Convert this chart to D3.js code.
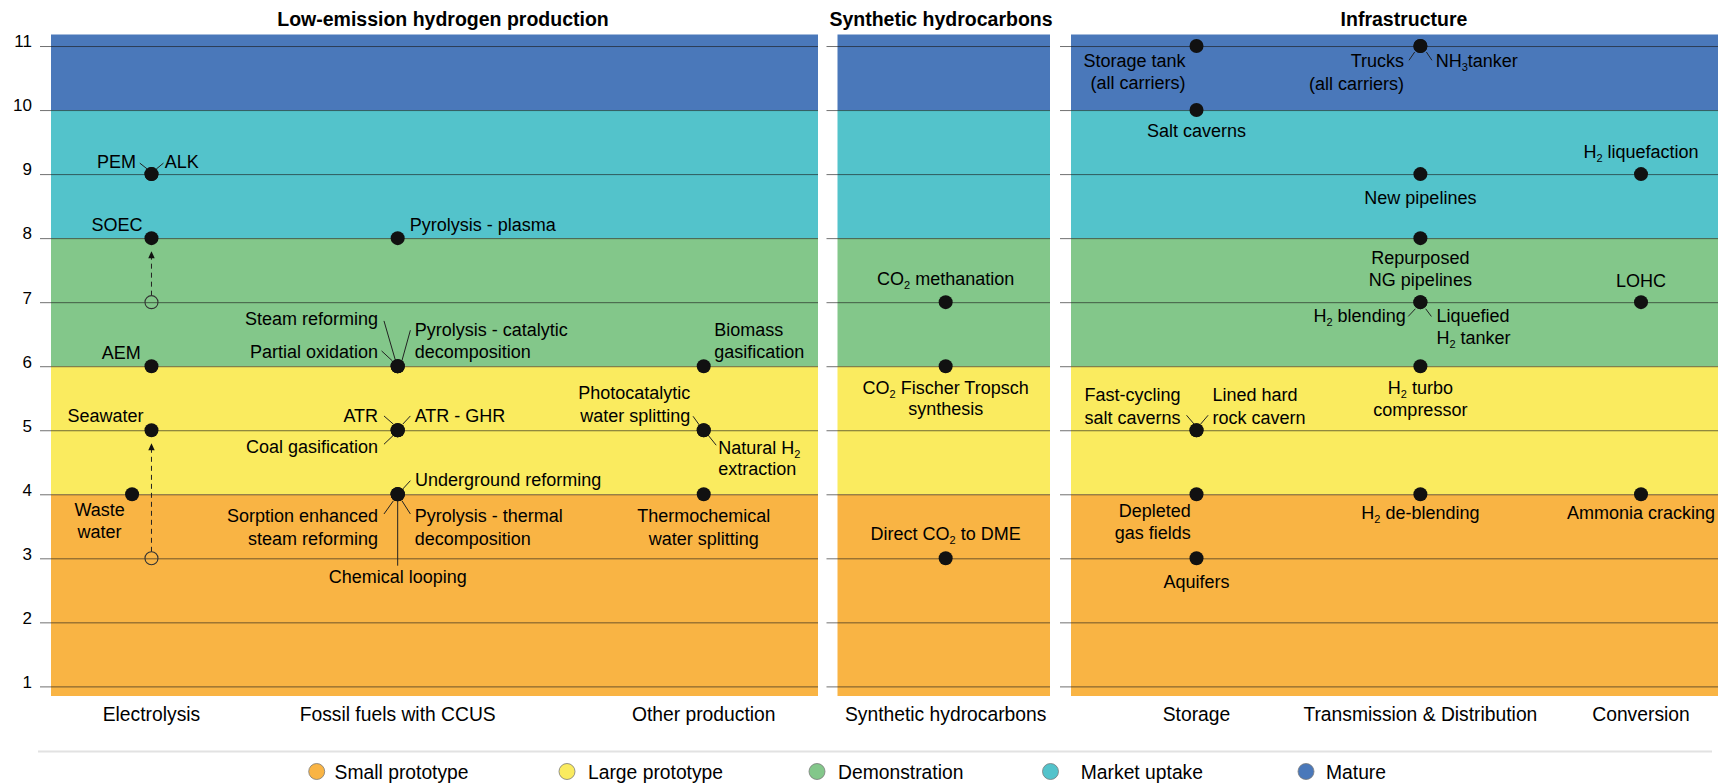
<!DOCTYPE html>
<html><head><meta charset="utf-8">
<script src="https://cdn.jsdelivr.net/npm/d3@7"></script>
<style>
body{margin:0;background:#fff}
svg{display:block}
text{font-family:"Liberation Sans",Arial,Helvetica,sans-serif;fill:#000}
</style>
</head><body>
<svg id="chart" width="1720" height="784"></svg>
<script>
// ---------------- DATA ----------------
const panelTitles = ["Low-emission hydrogen production", "Synthetic hydrocarbons", "Infrastructure"];
const categories = ["Electrolysis", "Fossil fuels with CCUS", "Other production", "Synthetic hydrocarbons", "Storage", "Transmission & Distribution", "Conversion"];
const categoryPanel = [0, 0, 0, 1, 2, 2, 2];
const categoryX = [1.31, 4.52, 8.51, 5.09, 1.94, 5.40, 8.81]; // position on each panel's 0–10 x axis
const yTicks = [1, 2, 3, 4, 5, 6, 7, 8, 9, 10, 11];
const stageNames = ["Small prototype", "Large prototype", "Demonstration", "Market uptake", "Mature"];
const stageFrom = [0, 4, 6, 8, 10];
const stageTo = [4, 6, 8, 10, 12];

const techNames = [
  "PEM", "ALK", "SOEC", "AEM", "Seawater", "Waste water",
  "Pyrolysis - plasma", "Steam reforming", "Partial oxidation", "Pyrolysis - catalytic decomposition",
  "ATR", "ATR - GHR", "Coal gasification", "Underground reforming", "Sorption enhanced steam reforming",
  "Pyrolysis - thermal decomposition", "Chemical looping",
  "Biomass gasification", "Photocatalytic water splitting", "Natural H₂ extraction", "Thermochemical water splitting",
  "CO₂ methanation", "CO₂ Fischer Tropsch synthesis", "Direct CO₂ to DME",
  "Storage tank (all carriers)", "Salt caverns", "Fast-cycling salt caverns", "Lined hard rock cavern", "Depleted gas fields", "Aquifers",
  "Trucks (all carriers)", "NH₃tanker", "New pipelines", "Repurposed NG pipelines", "H₂ blending", "Liquefied H₂ tanker",
  "H₂ turbo compressor", "H₂ de-blending",
  "H₂ liquefaction", "LOHC", "Ammonia cracking"
];
const techCategory = [
  "Electrolysis", "Electrolysis", "Electrolysis", "Electrolysis", "Electrolysis", "Electrolysis",
  "Fossil fuels with CCUS", "Fossil fuels with CCUS", "Fossil fuels with CCUS", "Fossil fuels with CCUS",
  "Fossil fuels with CCUS", "Fossil fuels with CCUS", "Fossil fuels with CCUS", "Fossil fuels with CCUS", "Fossil fuels with CCUS",
  "Fossil fuels with CCUS", "Fossil fuels with CCUS",
  "Other production", "Other production", "Other production", "Other production",
  "Synthetic hydrocarbons", "Synthetic hydrocarbons", "Synthetic hydrocarbons",
  "Storage", "Storage", "Storage", "Storage", "Storage", "Storage",
  "Transmission & Distribution", "Transmission & Distribution", "Transmission & Distribution", "Transmission & Distribution",
  "Transmission & Distribution", "Transmission & Distribution", "Transmission & Distribution", "Transmission & Distribution",
  "Conversion", "Conversion", "Conversion"
];
const techTRL = [
  9, 9, 8, 6, 5, 4,
  8, 6, 6, 6,
  5, 5, 5, 4, 4,
  4, 4,
  6, 5, 5, 4,
  7, 6, 3,
  11, 10, 5, 5, 4, 3,
  11, 11, 9, 8, 7, 7,
  6, 4,
  9, 7, 4
];
// technologies whose readiness level moved up (previous level -> current level)
const movedTech = ["SOEC", "Seawater"];
const movedFromTRL = [7, 3];

// ---------------- LAYOUT / STYLE ----------------
const W = 1720, H = 784;
const panelRange = [[51, 818], [837.5, 1050], [1071, 1718]];
const titleX = [443, 941, 1404];
const stageColors = ["#F9B444", "#FAEB5F", "#83C78A", "#53C3CB", "#4A78BA"];
const legendCX = [316.7, 567, 817, 1050.5, 1306];
const legendTX = [334.6, 588, 838, 1080.8, 1326];

// label placement relative to each dot (px)
const labelLayout = {
  "PEM": {a: "end", dx: -15.5, dy: [-6.6], lead: [-11.7, -11, -4.1, -5]},
  "ALK": {a: "start", dx: 13.2, dy: [-6.6], lead: [12, -11, 4.7, -5]},
  "SOEC": {a: "end", dx: -9, dy: [-7]},
  "AEM": {a: "end", dx: -10.6, dy: [-7]},
  "Seawater": {a: "end", dx: -8, dy: [-8]},
  "Waste water": {a: "middle", ox: -19.4, dx: -32.5, dy: [21.4, 43.7], lines: ["Waste", "water"]},
  "Pyrolysis - plasma": {a: "start", dx: 12, dy: [-7]},
  "Steam reforming": {a: "end", dx: -19.6, dy: [-41.3], lead: [-13.7, -45.3, -2.3, -6]},
  "Partial oxidation": {a: "end", dx: -19.6, dy: [-8.6], lead: [-16.1, -15.3, -5.3, -5.3]},
  "Pyrolysis - catalytic decomposition": {a: "start", dx: 17, dy: [-30.3, -8.6], lines: ["Pyrolysis - catalytic", "decomposition"], lead: [12.7, -36, 4.2, -5.3]},
  "ATR": {a: "end", dx: -19.6, dy: [-8.3], lead: [-13.7, -14.3, -4.2, -6]},
  "ATR - GHR": {a: "start", dx: 17, dy: [-8.3], lead: [12.7, -14.3, 5, -6]},
  "Coal gasification": {a: "end", dx: -19.6, dy: [22.3], lead: [-13.7, 14, -4.2, 5]},
  "Underground reforming": {a: "start", dx: 17.4, dy: [-7.9], lead: [12.7, -13.6, 4.2, -4.3]},
  "Sorption enhanced steam reforming": {a: "end", dx: -19.6, dy: [28.1, 50.4], lines: ["Sorption enhanced", "steam reforming"], lead: [-13.7, 19.7, -4.2, 6.4]},
  "Pyrolysis - thermal decomposition": {a: "start", dx: 17, dy: [28.1, 50.4], lines: ["Pyrolysis - thermal", "decomposition"], lead: [12.7, 19.7, 4.2, 6.4]},
  "Chemical looping": {a: "middle", dx: 0, dy: [89], lead: [0, 7, 0, 71.4]},
  "Biomass gasification": {a: "start", dx: 10.5, dy: [-30.3, -8], lines: ["Biomass", "gasification"]},
  "Photocatalytic water splitting": {a: "end", dx: -13.5, dy: [-31, -8.3], lines: ["Photocatalytic", "water splitting"], lead: [-10.7, -14, -3.5, -4]},
  "Natural H₂ extraction": {a: "start", dx: 14.5, dy: [23.3, 45], lines: ["Natural H₂", "extraction"], lead: [4.5, 5, 12.5, 15]},
  "Thermochemical water splitting": {a: "middle", dx: 0, dy: [28.1, 50.4], lines: ["Thermochemical", "water splitting"]},
  "CO₂ methanation": {a: "middle", dx: 0, dy: [-16.7]},
  "CO₂ Fischer Tropsch synthesis": {a: "middle", dx: 0, dy: [28, 48.7], lines: ["CO₂ Fischer Tropsch", "synthesis"]},
  "Direct CO₂ to DME": {a: "middle", dx: 0, dy: [-17.9]},
  "Storage tank (all carriers)": {a: "end", dx: -11, dy: [21, 42.6], lines: ["Storage tank", "(all carriers)"]},
  "Salt caverns": {a: "middle", dx: 0, dy: [27]},
  "Fast-cycling salt caverns": {a: "end", dx: -16, dy: [-29, -6.7], lines: ["Fast-cycling", "salt caverns"], lead: [-10, -15, -2.3, -6]},
  "Lined hard rock cavern": {a: "start", dx: 16, dy: [-29, -6.7], lines: ["Lined hard", "rock cavern"], lead: [11.6, -15, 4, -6]},
  "Depleted gas fields": {a: "end", dx: -5.7, dy: [23, 44.7], lines: ["Depleted", "gas fields"]},
  "Aquifers": {a: "middle", dx: 0, dy: [29.5]},
  "Trucks (all carriers)": {a: "end", dx: -16.4, dy: [21, 43.6], lines: ["Trucks", "(all carriers)"], lead: [-5.7, 6, -11.4, 14.3]},
  "NH₃tanker": {a: "start", dx: 15.3, dy: [21], lead: [6, 6, 11.6, 14.3]},
  "New pipelines": {a: "middle", dx: 0, dy: [29.4]},
  "Repurposed NG pipelines": {a: "middle", dx: 0, dy: [26.3, 48], lines: ["Repurposed", "NG pipelines"]},
  "H₂ blending": {a: "end", dx: -14.7, dy: [20], lead: [-12.2, 14.3, -5, 6.6]},
  "Liquefied H₂ tanker": {a: "start", dx: 16, dy: [20, 41.6], lines: ["Liquefied", "H₂ tanker"], lead: [11, 14.3, 5.3, 6.6]},
  "H₂ turbo compressor": {a: "middle", dx: 0, dy: [28, 49.7], lines: ["H₂ turbo", "compressor"]},
  "H₂ de-blending": {a: "middle", dx: 0, dy: [24.7]},
  "H₂ liquefaction": {a: "middle", dx: 0, dy: [-16]},
  "LOHC": {a: "middle", dx: 0, dy: [-15]},
  "Ammonia cracking": {a: "middle", dx: 0, dy: [24.7]}
};

// ---------------- DRAW ----------------
const svg = d3.select("#chart");
const y = d3.scaleLinear().domain([0.85, 11.18]).range([696, 34.5]);
const [yMin, yMax] = y.domain();
const xScales = panelRange.map(r => d3.scaleLinear().domain([0, 10]).range(r));
const catX = name => {
  const i = categories.indexOf(name);
  return xScales[categoryPanel[i]](categoryX[i]);
};

// rich text with subscript digits
function rich(sel, str) {
  const parts = str.split(/([₂₃])/).filter(s => s !== "");
  let shifted = false;
  parts.forEach(p => {
    if (p === "₂" || p === "₃") {
      sel.append("tspan").attr("font-size", 11).attr("dy", 4).text(p === "₂" ? "2" : "3");
      shifted = true;
    } else {
      const t = sel.append("tspan").text(p);
      if (shifted) { t.attr("dy", -4); shifted = false; }
    }
  });
}

panelRange.forEach((r, p) => {
  const g = svg.append("g");
  // stage bands
  stageNames.forEach((s, i) => {
    const top = Math.min(stageTo[i], yMax), bot = Math.max(stageFrom[i], yMin);
    g.append("rect")
      .attr("x", r[0]).attr("width", r[1] - r[0])
      .attr("y", y(top)).attr("height", y(bot) - y(top))
      .attr("fill", stageColors[i]);
  });
  // gridlines
  const grid = d3.axisRight(y).tickValues(yTicks).tickSize(r[1] - r[0] + 11).tickFormat("");
  const gg = svg.append("g").attr("transform", `translate(${r[0] - 11},0)`).call(grid);
  gg.select(".domain").remove();
  gg.selectAll(".tick line").attr("stroke", "#1a1a1a").attr("stroke-opacity", 0.62).attr("stroke-width", 1);

  // panel title
  svg.append("text").attr("x", titleX[p]).attr("y", 26)
    .attr("text-anchor", "middle").attr("font-weight", "bold").attr("font-size", 19.5)
    .text(panelTitles[p]);
});

// y axis labels
const ya = d3.axisLeft(y).tickValues(yTicks).tickSize(0).tickPadding(0);
const yg = svg.append("g").attr("transform", "translate(32,0)").call(ya);
yg.select(".domain").remove();
yg.selectAll(".tick text").attr("font-size", 17).attr("fill", "#000")
  .attr("font-family", '"Liberation Sans",Arial,sans-serif').attr("dy", "0.05em");

// category labels
categories.forEach(c => {
  svg.append("text").attr("x", catX(c)).attr("y", 720.7)
    .attr("text-anchor", "middle").attr("font-size", 19.3).text(c);
});

// movement arrows (previous level -> current level)
movedTech.forEach((t, i) => {
  const cx = catX(techCategory[techNames.indexOf(t)]);
  const yFrom = y(movedFromTRL[i]);
  const yTo = y(techTRL[techNames.indexOf(t)]);
  const tip = yTo + 7 + 6;
  svg.append("line").attr("x1", cx).attr("x2", cx)
    .attr("y1", yFrom - 6.5).attr("y2", tip + 5)
    .attr("stroke", "#222").attr("stroke-width", 1).attr("stroke-dasharray", "5,4");
  svg.append("path").attr("d", `M${cx},${tip}L${cx - 3.2},${tip + 7}L${cx + 3.2},${tip + 7}Z`).attr("fill", "#111");
  svg.append("circle").attr("cx", cx).attr("cy", yFrom).attr("r", 6.5)
    .attr("fill", "none").attr("stroke", "#333").attr("stroke-width", 1.1);
});

// dots, leader lines and labels
const tech = techNames.map((n, i) => ({name: n, cat: techCategory[i], trl: techTRL[i]}));
const labelG = svg.append("g");
tech.forEach(d => {
  const L = labelLayout[d.name] || {a: "middle", dx: 0, dy: [24]};
  const cx = catX(d.cat) + (L.ox || 0);
  const cy = y(d.trl);
  if (L.lead) {
    labelG.append("line")
      .attr("x1", cx + L.lead[0]).attr("y1", cy + L.lead[1])
      .attr("x2", cx + L.lead[2]).attr("y2", cy + L.lead[3])
      .attr("stroke", "#222").attr("stroke-width", 1);
  }
  const lines = L.lines || [d.name];
  lines.forEach((ln, k) => {
    const t = labelG.append("text")
      .attr("x", cx + L.dx).attr("y", cy + L.dy[k])
      .attr("text-anchor", L.a).attr("font-size", 18);
    rich(t, ln);
  });
});
svg.append("g").selectAll("circle").data(tech).join("circle")
  .attr("cx", d => catX(d.cat) + ((labelLayout[d.name] || {}).ox || 0))
  .attr("cy", d => y(d.trl))
  .attr("r", 7).attr("fill", "#111");

// legend
svg.append("line").attr("x1", 38).attr("x2", 1712).attr("y1", 751.5).attr("y2", 751.5)
  .attr("stroke", "#e2e2e2").attr("stroke-width", 2);
stageNames.forEach((s, i) => {
  svg.append("circle").attr("cx", legendCX[i]).attr("cy", 771.5).attr("r", 8)
    .attr("fill", stageColors[i]).attr("stroke", "#7a7a7a").attr("stroke-width", 0.8);
  svg.append("text").attr("x", legendTX[i]).attr("y", 778.5).attr("font-size", 19.3).text(s);
});
</script>
</body></html>
